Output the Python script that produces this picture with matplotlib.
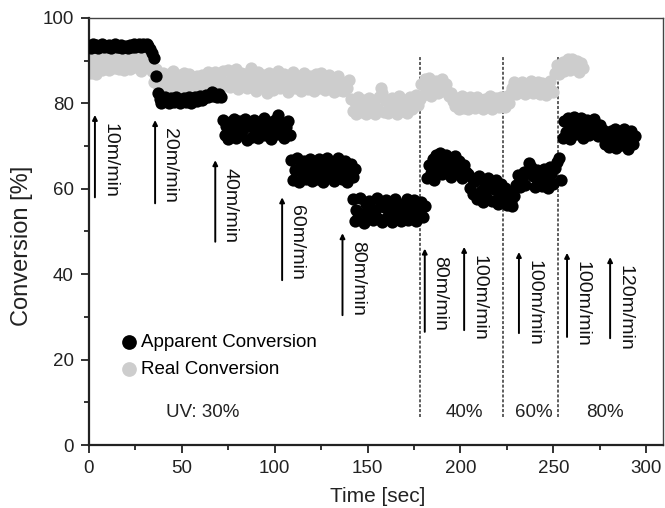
import numpy as np
import matplotlib
matplotlib.use("Agg")
import matplotlib.pyplot as plt

plt.rcParams["font.family"] = ["Liberation Sans", "DejaVu Sans"]

# Apparent conversion [%], 1 s sampling; each run starts at the given time [s]
apparent_t0 = [0, 36, 72, 109, 142, 182, 204, 230, 255, 277]
apparent_runs = [
    [93.5, 93.0, 93.8, 93.2, 93.6, 93.0, 93.4, 93.9, 93.1, 93.5, 93.2, 93.7, 93.0, 93.4, 93.8, 93.1, 93.3, 93.6,
     92.9, 93.2, 93.5, 93.0, 93.7, 93.3, 93.9, 93.2, 93.6, 94.0, 93.3, 93.8, 93.5, 93.9, 93.4, 92.8, 91.8, 90.6],
    [86.5, 82.5, 81.0, 80.2, 80.8, 81.4, 80.5, 80.0, 81.2, 80.6, 80.3, 81.5, 80.9, 80.1, 80.7, 81.3, 80.4, 80.8,
     81.6, 80.2, 80.9, 81.4, 80.5, 81.0, 81.8, 80.7, 81.2, 82.0, 81.4, 81.9, 82.6, 81.7, 82.3, 81.5, 82.1, 81.6],
    [76.0, 72.5, 74.8, 71.6, 75.6, 73.2, 76.3, 71.9, 74.1, 75.9, 72.8, 73.9, 76.4, 71.5, 74.6, 75.2, 72.2, 76.1,
     73.5, 71.8, 75.0, 74.2, 76.6, 72.6, 73.8, 75.7, 71.7, 74.9, 76.2, 72.9, 77.2, 73.1, 75.5, 71.9, 74.4, 75.8, 72.7],
    [66.8, 62.0, 64.5, 67.2, 61.6, 65.3, 63.0, 66.6, 62.4, 64.8, 67.0, 61.8, 63.7, 65.9, 62.2, 66.9, 64.1, 61.5,
     65.5, 67.3, 62.7, 64.4, 66.3, 61.9, 63.4, 67.1, 65.0, 62.3, 64.9, 66.5, 61.7, 63.9, 65.7, 62.8, 64.6],
    [57.5, 52.4, 55.0, 53.3, 57.8, 54.2, 52.1, 56.4, 53.8, 57.2, 55.5, 52.6, 54.7, 57.9, 53.0, 56.1, 52.3, 55.8,
     57.4, 53.6, 54.9, 52.2, 56.8, 57.6, 53.2, 55.3, 52.5, 56.5, 54.1, 57.7, 52.8, 55.6, 53.9, 57.3, 52.4, 56.2,
     54.6, 57.0, 53.4, 55.9],
    [62.5, 65.5, 63.8, 66.9, 62.0, 67.8, 65.0, 68.4, 63.4, 66.2, 68.0, 64.6, 67.2, 62.8, 65.9, 67.6, 63.9, 66.5,
     64.8, 62.6, 65.6, 64.0],
    [63.4, 60.2, 62.5, 58.8, 61.9, 57.5, 63.0, 59.6, 56.8, 61.4, 58.1, 62.6, 60.5, 57.2, 59.9, 62.0, 56.5, 58.7,
     61.2, 57.8, 60.1, 56.3, 59.0, 57.1, 56.0, 58.3],
    [61.0, 63.2, 60.5, 62.4, 64.0, 60.8, 63.6, 66.0, 65.2, 62.9, 60.4, 64.3, 61.5, 63.0, 60.7, 64.6, 62.1, 60.3,
     65.0, 63.4, 61.2, 64.8, 66.2, 67.3, 62.0],
    [72.0, 75.8, 73.4, 76.5, 71.6, 74.7, 76.8, 72.8, 75.2, 73.9, 76.6, 71.8, 74.3, 76.2, 72.5, 75.5, 73.1, 76.4,
     74.0, 72.3, 75.0, 73.2],
    [73.8, 70.4, 72.6, 69.8, 73.5, 71.2, 74.0, 69.5, 72.1, 73.2, 70.2, 73.9, 71.6, 69.4, 72.8, 73.6, 70.6, 72.3],
]

# Real conversion [%], 1 s sampling
real_t0 = [0, 34, 70, 141, 179, 197, 228, 251]
real_runs = [
    [89.5, 87.0, 90.6, 88.2, 86.9, 91.0, 89.0, 87.8, 90.3, 88.6, 91.2, 87.9, 89.7, 90.8, 88.3, 91.3, 88.0, 89.9,
     90.5, 87.8, 91.1, 89.3, 88.1, 90.7, 91.4, 88.5, 89.6, 91.0, 87.7, 90.2, 88.8, 91.2, 89.4, 88.2],
    [87.5, 85.0, 88.0, 84.3, 86.4, 83.2, 87.2, 85.5, 83.0, 86.8, 84.6, 87.6, 83.5, 85.9, 82.9, 86.6, 84.1, 87.0,
     83.3, 85.2, 86.9, 83.8, 84.9, 82.8, 86.3, 85.0, 83.4, 86.7, 84.4, 83.1, 87.3, 85.6, 86.2, 84.0, 87.4, 85.8],
    [86.5, 83.5, 87.6, 85.0, 84.2, 87.9, 83.8, 86.2, 84.9, 88.0, 83.3, 85.7, 87.2, 84.1, 86.8, 83.6, 85.4, 88.2,
     84.6, 86.0, 82.8, 87.4, 85.1, 83.9, 86.6, 84.3, 82.4, 87.0, 85.8, 83.2, 86.4, 84.7, 87.5, 83.5, 85.3, 86.9,
     84.0, 82.7, 86.1, 85.0, 87.3, 83.7, 84.8, 86.5, 83.0, 85.6, 87.1, 84.2, 83.4, 86.3, 85.2, 82.9, 86.8, 84.5,
     83.6, 87.2, 85.5, 83.1, 84.9, 86.7, 83.8, 85.9, 82.6, 84.3, 86.4, 83.2, 85.0, 82.8, 84.6, 83.5, 85.4],
    [81.0, 78.2, 80.4, 77.6, 81.5, 79.3, 78.0, 80.9, 77.5, 79.8, 81.2, 78.5, 80.1, 77.4, 79.0, 81.6, 83.7, 82.5,
     78.1, 80.6, 77.7, 79.5, 81.3, 78.7, 80.0, 77.5, 81.7, 79.2, 78.3, 80.8, 77.8, 79.9, 81.4, 78.6, 80.3, 82.0,
     79.6, 81.1],
    [84.5, 82.0, 85.6, 83.2, 85.9, 81.8, 84.9, 83.6, 85.3, 82.4, 84.1, 85.7, 82.9, 84.6, 83.0, 81.7, 82.5, 80.5],
    [79.4, 81.2, 78.7, 80.3, 81.8, 79.0, 80.7, 78.6, 81.4, 79.8, 80.2, 78.9, 81.6, 79.5, 80.9, 78.8, 81.0, 79.6,
     80.4, 81.7, 78.7, 79.9, 81.3, 80.1, 79.2, 81.5, 80.6, 79.1, 81.8, 80.0, 82.5],
    [83.5, 85.0, 82.2, 84.3, 82.9, 85.1, 83.7, 82.1, 84.6, 83.0, 85.2, 82.5, 84.0, 83.3, 85.0, 82.3, 84.8, 83.6,
     82.0, 84.4, 85.3, 83.1, 82.6],
    [87.2, 89.0, 86.9, 88.5, 89.6, 87.5, 88.9, 90.3, 87.8, 90.5, 89.2, 88.1, 90.0, 87.4, 89.4, 88.3],
]

# Line-speed steps: time of arrow [s], arrow bottom/top [%], label
speed_t = [3.2, 35.6, 68, 104, 136.5, 180.8, 202, 231.5, 257.4, 280.6]
speed_lo = [58, 56.6, 47.6, 38.6, 30.4, 26.5, 26.9, 26.2, 25.3, 25.0]
speed_hi = [77.3, 76.1, 66.7, 58.0, 49.6, 46.0, 46.4, 45.2, 45.0, 44.0]
speed_labels = ["10m/min", "20m/min", "40m/min", "60m/min", "80m/min",
                "80m/min", "100m/min", "100m/min", "100m/min", "120m/min"]

# UV intensity changes
uv_change_t = [178, 223, 252.6]
uv_labels = ["UV: 30%", "40%", "60%", "80%"]
uv_label_t = [61, 202, 239.6, 278]


def expand(starts, runs):
    t, v = [], []
    for s, r in zip(starts, runs):
        t.extend(s + np.arange(len(r)))
        v.extend(r)
    return np.array(t, float), np.array(v, float)


ta, va = expand(apparent_t0, apparent_runs)
tr, vr = expand(real_t0, real_runs)

fig = plt.figure(figsize=(6.65, 5.08), dpi=100)
ax = fig.add_axes([0.1338, 0.124, 0.863, 0.8406])

ax.scatter(tr, vr, s=78, color="#cdcdcd", linewidths=0, zorder=2, label="Real Conversion")
ax.scatter(ta, va, s=78, color="black", linewidths=0, zorder=3, label="Apparent Conversion")

for x in uv_change_t:
    ax.plot([x, x], [6.5, 90.8], color="#333333", lw=1.1, ls=(0, (2, 1.2)), zorder=1)

for x, lo, hi, lab in zip(speed_t, speed_lo, speed_hi, speed_labels):
    ax.annotate("", xy=(x, hi), xytext=(x, lo),
                arrowprops=dict(arrowstyle="-|>", lw=1.4, color="black",
                                mutation_scale=7, shrinkA=0, shrinkB=0), zorder=4)
    ax.text(x + 8.0, hi - 1.8, lab, rotation=270, ha="center", va="top",
            fontsize=14, color="#111111", zorder=4)

for x, lab in zip(uv_label_t, uv_labels):
    ax.text(x, 7.5, lab, ha="center", va="center", fontsize=13.5, color="#222222")

ax.set_xlim(0, 309)
ax.set_ylim(0, 100)
ax.set_xticks([0, 50, 100, 150, 200, 250, 300])
ax.set_xticks(np.arange(25, 300, 50), minor=True)
ax.set_yticks([0, 20, 40, 60, 80, 100])
ax.set_yticks([10, 30, 50, 70, 90], minor=True)
ax.tick_params(axis="both", which="major", direction="out", length=6, width=1.3,
               labelsize=13.5, pad=5, color="#222222", labelcolor="#222222")
ax.tick_params(axis="both", which="minor", direction="out", length=3.5, width=1.3,
               color="#222222")

for side in ("left", "bottom"):
    ax.spines[side].set_linewidth(1.6)
    ax.spines[side].set_color("#222222")
for side in ("top", "right"):
    ax.spines[side].set_linewidth(1.0)
    ax.spines[side].set_color("#444444")

ax.set_xlabel("Time [sec]", fontsize=15, color="#222222")
ax.set_ylabel("Conversion [%]", fontsize=17, color="#222222")
ax.xaxis.set_label_coords(0.503, -0.098)
ax.yaxis.set_label_coords(-0.098, 0.466)

handles, labels = ax.get_legend_handles_labels()
leg = ax.legend(handles[::-1], labels[::-1], loc="upper left", bbox_to_anchor=(0.038, 0.278),
                frameon=False, fontsize=13.5, markerscale=1.2, handletextpad=0.1,
                labelspacing=0.55, handlelength=1.1, borderaxespad=0)

fig.savefig("out.png", dpi=100)
